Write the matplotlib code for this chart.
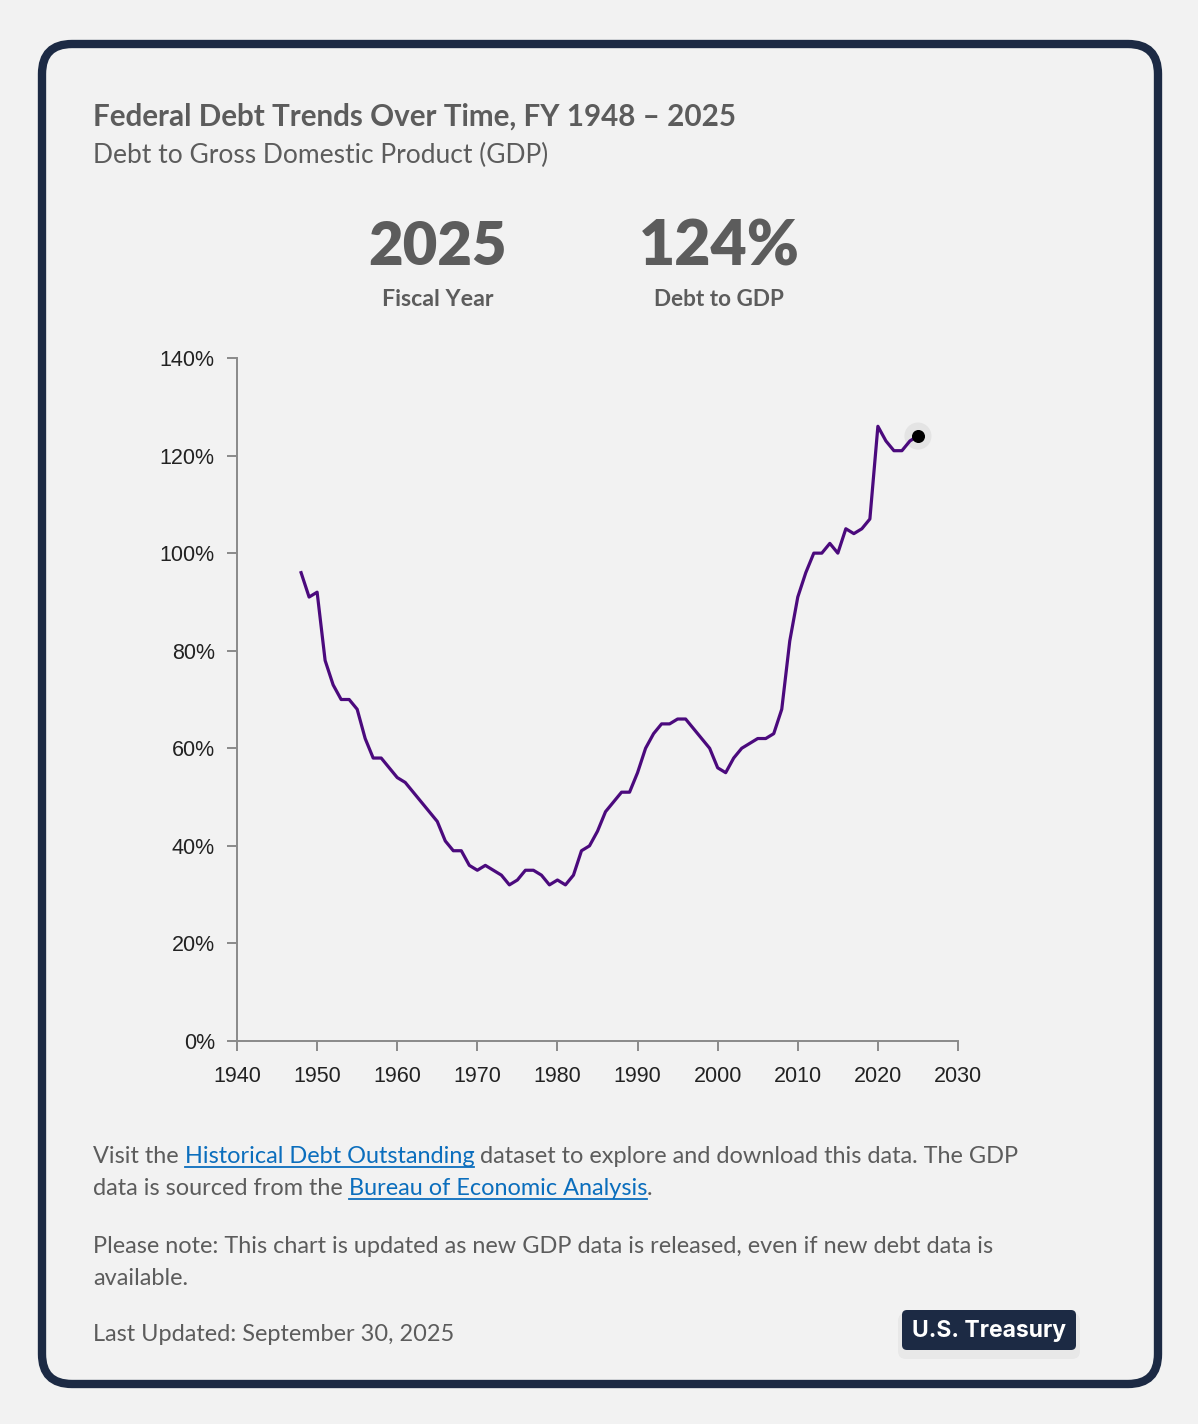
import matplotlib.pyplot as plt
from matplotlib.patches import FancyBboxPatch

years = list(range(1948, 2026))
debt_to_gdp = [96, 91, 92, 78, 73, 70, 70, 68, 62, 58,
               58, 56, 54, 53, 51, 49, 47, 45, 41, 39,
               39, 36, 35, 36, 35, 34, 32, 33, 35, 35,
               34, 32, 33, 32, 34, 39, 40, 43, 47, 49,
               51, 51, 55, 60, 63, 65, 65, 66, 66, 64,
               62, 60, 56, 55, 58, 60, 61, 62, 62, 63,
               68, 82, 91, 96, 100, 100, 102, 100, 105, 104,
               105, 107, 126, 123, 121, 121, 123, 124]
x_ticks = [1940, 1950, 1960, 1970, 1980, 1990, 2000, 2010, 2020, 2030]
y_ticks = [0, 20, 40, 60, 80, 100, 120, 140]

W, H = 1198, 1424
BG = '#f2f2f2'
TXT = '#5c5c5c'
NAVY = '#1c2a44'
LINK = '#0b6ebd'
BODY_FONT = ['Lato', 'DejaVu Sans']

fig = plt.figure(figsize=(W / 100, H / 100), dpi=100)
fig.patch.set_facecolor(BG)

# overlay axes in pixel units for the card and texts
deco = fig.add_axes([0, 0, 1, 1], zorder=0)
deco.set_xlim(0, W)
deco.set_ylim(H, 0)
deco.axis('off')

card = FancyBboxPatch((42, 44), 1116, 1340,
                      boxstyle='round,pad=0,rounding_size=30',
                      facecolor=BG, edgecolor=NAVY, linewidth=6)
deco.add_patch(card)

deco.text(93, 126, 'Federal Debt Trends Over Time, FY 1948 \u2013 2025',
          fontsize=21.3, fontweight='bold', color=TXT, family=BODY_FONT,
          va='baseline')
deco.text(93, 163, 'Debt to Gross Domestic Product (GDP)',
          fontsize=19, color=TXT, family=BODY_FONT, va='baseline')

deco.text(438, 265, str(years[-1]), fontsize=43, fontweight='heavy',
          color=TXT, family=BODY_FONT, ha='center', va='baseline')
deco.text(438, 306, 'Fiscal Year', fontsize=16.7, fontweight='bold',
          color=TXT, family=BODY_FONT, ha='center', va='baseline')
deco.text(719, 265, f'{debt_to_gdp[-1]}%', fontsize=45, fontweight='heavy',
          color=TXT, family=BODY_FONT, ha='center', va='baseline')
deco.text(719, 306, 'Debt to GDP', fontsize=16.2, fontweight='bold',
          color=TXT, family=BODY_FONT, ha='center', va='baseline')

renderer = fig.canvas.get_renderer()


def inline(x, y, parts, size=16.9):
    # draw text pieces one after the other, links underlined in blue
    for txt, is_link in parts:
        t = deco.text(x, y, txt, fontsize=size, family=BODY_FONT,
                      color=LINK if is_link else TXT, va='baseline')
        w = t.get_window_extent(renderer).width
        if is_link:
            deco.plot([x, x + w], [y + 4, y + 4], color=LINK, lw=1.3)
        x += w


inline(93, 1163, [('Visit the ', False), ('Historical Debt Outstanding', True),
                  (' dataset to explore and download this data. The GDP', False)])
inline(93, 1195, [('data is sourced from the ', False),
                  ('Bureau of Economic Analysis', True), ('.', False)])
inline(93, 1253, [('Please note: This chart is updated as new GDP data is released, '
                   'even if new debt data is', False)])
inline(93, 1285, [('available.', False)])
inline(93, 1341, [('Last Updated: September 30, 2025', False)])

shadow = FancyBboxPatch((898, 1313), 182, 46,
                        boxstyle='round,pad=0,rounding_size=8',
                        facecolor='#000000', alpha=0.04, edgecolor='none')
deco.add_patch(shadow)
badge = FancyBboxPatch((902, 1310), 174, 40,
                       boxstyle='round,pad=0,rounding_size=5',
                       facecolor=NAVY, edgecolor='none')
deco.add_patch(badge)
deco.text(989, 1331, 'U.S. Treasury', fontsize=16.5, fontweight='bold',
          color='white', family=['Inter', 'DejaVu Sans'],
          ha='center', va='center')

# chart
ax = fig.add_axes([237 / W, 1 - 1041 / H, 721 / W, 683 / H], zorder=1)
ax.patch.set_visible(False)
ax.scatter([years[-1]], [debt_to_gdp[-1]], s=380, color='#e4e4e4', zorder=1,
           edgecolors='none')
ax.plot(years, debt_to_gdp, color='#4b0a7d', lw=2.3, zorder=2)
ax.scatter([years[-1]], [debt_to_gdp[-1]], s=70, color='black', zorder=4)

ax.set_xlim(1940, 2030)
ax.set_ylim(0, 140)
ax.set_xticks(x_ticks)
ax.set_yticks(y_ticks)
ax.set_yticklabels([f'{v}%' for v in y_ticks])
for s in ['top', 'right']:
    ax.spines[s].set_visible(False)
for s in ['left', 'bottom']:
    ax.spines[s].set_color('#8a8a8a')
    ax.spines[s].set_linewidth(1.4)
ax.tick_params(axis='both', colors='#8a8a8a', length=7, width=1.4,
               labelcolor='#222222', labelsize=15.5)
ax.tick_params(axis='y', pad=9)
ax.tick_params(axis='x', pad=11)
for lab in ax.get_xticklabels() + ax.get_yticklabels():
    lab.set_family(['Liberation Sans', 'DejaVu Sans'])

fig.savefig('out.png', dpi=100, facecolor=BG)
